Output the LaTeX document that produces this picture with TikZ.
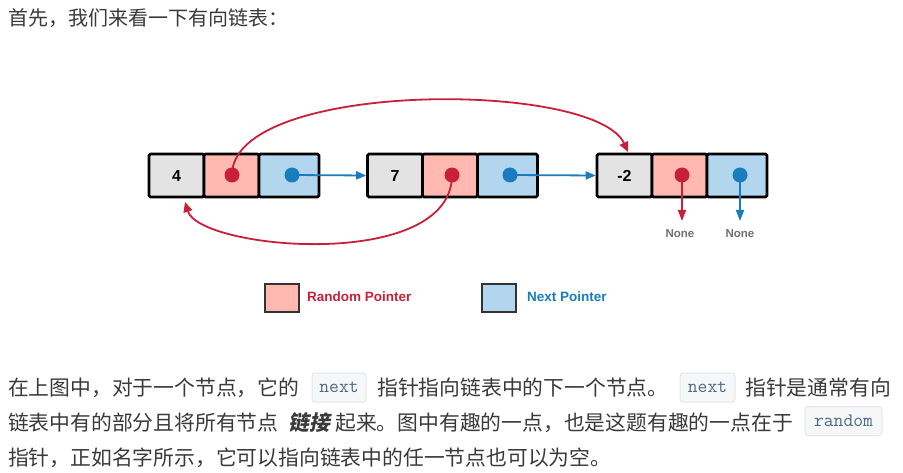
\documentclass[tikz,border=0pt]{standalone}
\usepackage{fontspec}
\usetikzlibrary{arrows.meta}
\newfontfamily\cjk{Noto Sans CJK SC}
\newfontfamily\cjkbi{Noto Sans CJK SC}[BoldFeatures={FakeSlant=0.2}]
\newfontfamily\arialf{Liberation Sans}
\definecolor{txt}{HTML}{3A3A3A}
\definecolor{cellgrey}{HTML}{E3E3E3}
\definecolor{cellred}{HTML}{FFB9B1}
\definecolor{cellblue}{HTML}{B3D6EF}
\definecolor{ptrred}{HTML}{C8203A}
\definecolor{ptrblue}{HTML}{1A7BBF}
\definecolor{nonegrey}{HTML}{707070}
\definecolor{codebg}{HTML}{F5F7F9}
\definecolor{codeborder}{HTML}{E4E7EA}
\definecolor{codefg}{HTML}{4D6A85}
\tikzset{
  cell/.style={draw=black, line width=2.6pt, rounded corners=1.5pt, minimum height=43pt, inner sep=0pt},
  gcell/.style={cell, fill=cellgrey, minimum width=55pt, font=\arialf\bfseries\fontsize{16}{18}\selectfont},
  rcell/.style={cell, fill=cellred, minimum width=55pt},
  bcell/.style={cell, fill=cellblue, minimum width=60pt},
  rdot/.style={circle, fill=ptrred, minimum size=15pt, inner sep=0pt},
  bdot/.style={circle, fill=ptrblue, minimum size=15pt, inner sep=0pt},
  redptr/.style={draw=ptrred, line width=1.8pt, -{Triangle[length=10pt,width=9pt]}},
  blueptr/.style={draw=ptrblue, line width=1.8pt, -{Triangle[length=10pt,width=8pt]}},
  nonelbl/.style={text=nonegrey, font=\arialf\bfseries\fontsize{11.5}{13}\selectfont, inner sep=0pt},
  legbox/.style={draw=black!80, line width=1.4pt, minimum width=34pt, minimum height=28pt, inner sep=0pt},
  leglbl/.style={anchor=west, inner sep=0pt, font=\arialf\bfseries\fontsize{13.5}{15}\selectfont},
  para/.style={anchor=west, inner sep=0pt, text=txt, font=\cjk\fontsize{20.8}{24}\selectfont},
  codebox/.style={fill=codebg, draw=codeborder, line width=1pt, rounded corners=3pt, inner sep=0pt, text=codefg, font=\ttfamily\fontsize{19}{22}\selectfont, minimum height=29pt}
}
\begin{document}
\begin{tikzpicture}[x=1pt,y=-1pt]
\useasboundingbox[fill=white] (0,0) rectangle (903,473);

% heading
\node[para, font=\cjk\fontsize{20}{24}\selectfont] (head) at (8,18) {首先，我们来看一下有向链表：};

% node 1
\node[gcell] (v1) at (176.5,175.5) {4};
\node[rcell] (r1) at (231.5,175.5) {};
\node[bcell] (b1) at (289,175.5) {};
% node 2
\node[gcell] (v2) at (395,175.5) {7};
\node[rcell] (r2) at (450,175.5) {};
\node[bcell] (b2) at (507.5,175.5) {};
% node 3
\node[gcell] (v3) at (624.5,175.5) {-2};
\node[rcell] (r3) at (679.5,175.5) {};
\node[bcell] (b3) at (737,175.5) {};

% dots
\node[rdot] (rd1) at (232,175) {};
\node[bdot] (bd1) at (292,175) {};
\node[rdot] (rd2) at (452,175) {};
\node[bdot] (bd2) at (510,175) {};
\node[rdot] (rd3) at (682,175) {};
\node[bdot] (bd3) at (740,175) {};

% next pointers
\draw[blueptr] (bd1.center) -- (v2.west);
\draw[blueptr] (bd2.center) -- (v3.west);

% random pointers
\coordinate (t3) at (628,152);
\coordinate (t1) at (185,202);
\draw[redptr] (rd1.center) .. controls (232,80) and (595,80) .. (t3);
\draw[redptr] (rd2.center) .. controls (452,272) and (200,250) .. (t1);

% None
\node[nonelbl] (n1) at (680,233.5) {None};
\node[nonelbl] (n2) at (740,233.5) {None};
\coordinate (e1) at (682,221);
\coordinate (e2) at (740,221);
\draw[redptr, -{Triangle[length=11pt,width=8pt]}] (rd3.center) -- (e1);
\draw[blueptr, -{Triangle[length=11pt,width=8pt]}] (bd3.center) -- (e2);

% legend
\node[legbox, fill=cellred] (lr) at (282,298) {};
\node[leglbl, text=ptrred] (lrt) at (307,296.5) {Random Pointer};
\node[legbox, fill=cellblue] (lb) at (499,298) {};
\node[leglbl, text=ptrblue] (lbt) at (527,296.5) {Next Pointer};

% paragraph line 1
\node[para] (p1a) at (8,388) {在上图中，对于一个节点，它的};
\node[codebox, minimum width=54pt] (c1) at (339,387.5) {next};
\node[para] (p1b) at (377,388) {指针指向链表中的下一个节点。};
\node[codebox, minimum width=55pt] (c2) at (707.5,387.5) {next};
\node[para] (p1c) at (745,388) {指针是通常有向};
% line 2
\node[para] (p2a) at (8,422.5) {链表中有的部分且将所有节点};
\node[para, font=\cjkbi\bfseries\fontsize{20.8}{24}\selectfont] (p2b) at (288,422.5) {链接};
\node[para] (p2c) at (335,422.5) {起来。图中有趣的一点，也是这题有趣的一点在于};
\node[codebox, minimum width=77pt] (c3) at (843.5,421) {random};
% line 3
\node[para] (p3) at (8,458) {指针，正如名字所示，它可以指向链表中的任一节点也可以为空。};
\end{tikzpicture}
\end{document}
